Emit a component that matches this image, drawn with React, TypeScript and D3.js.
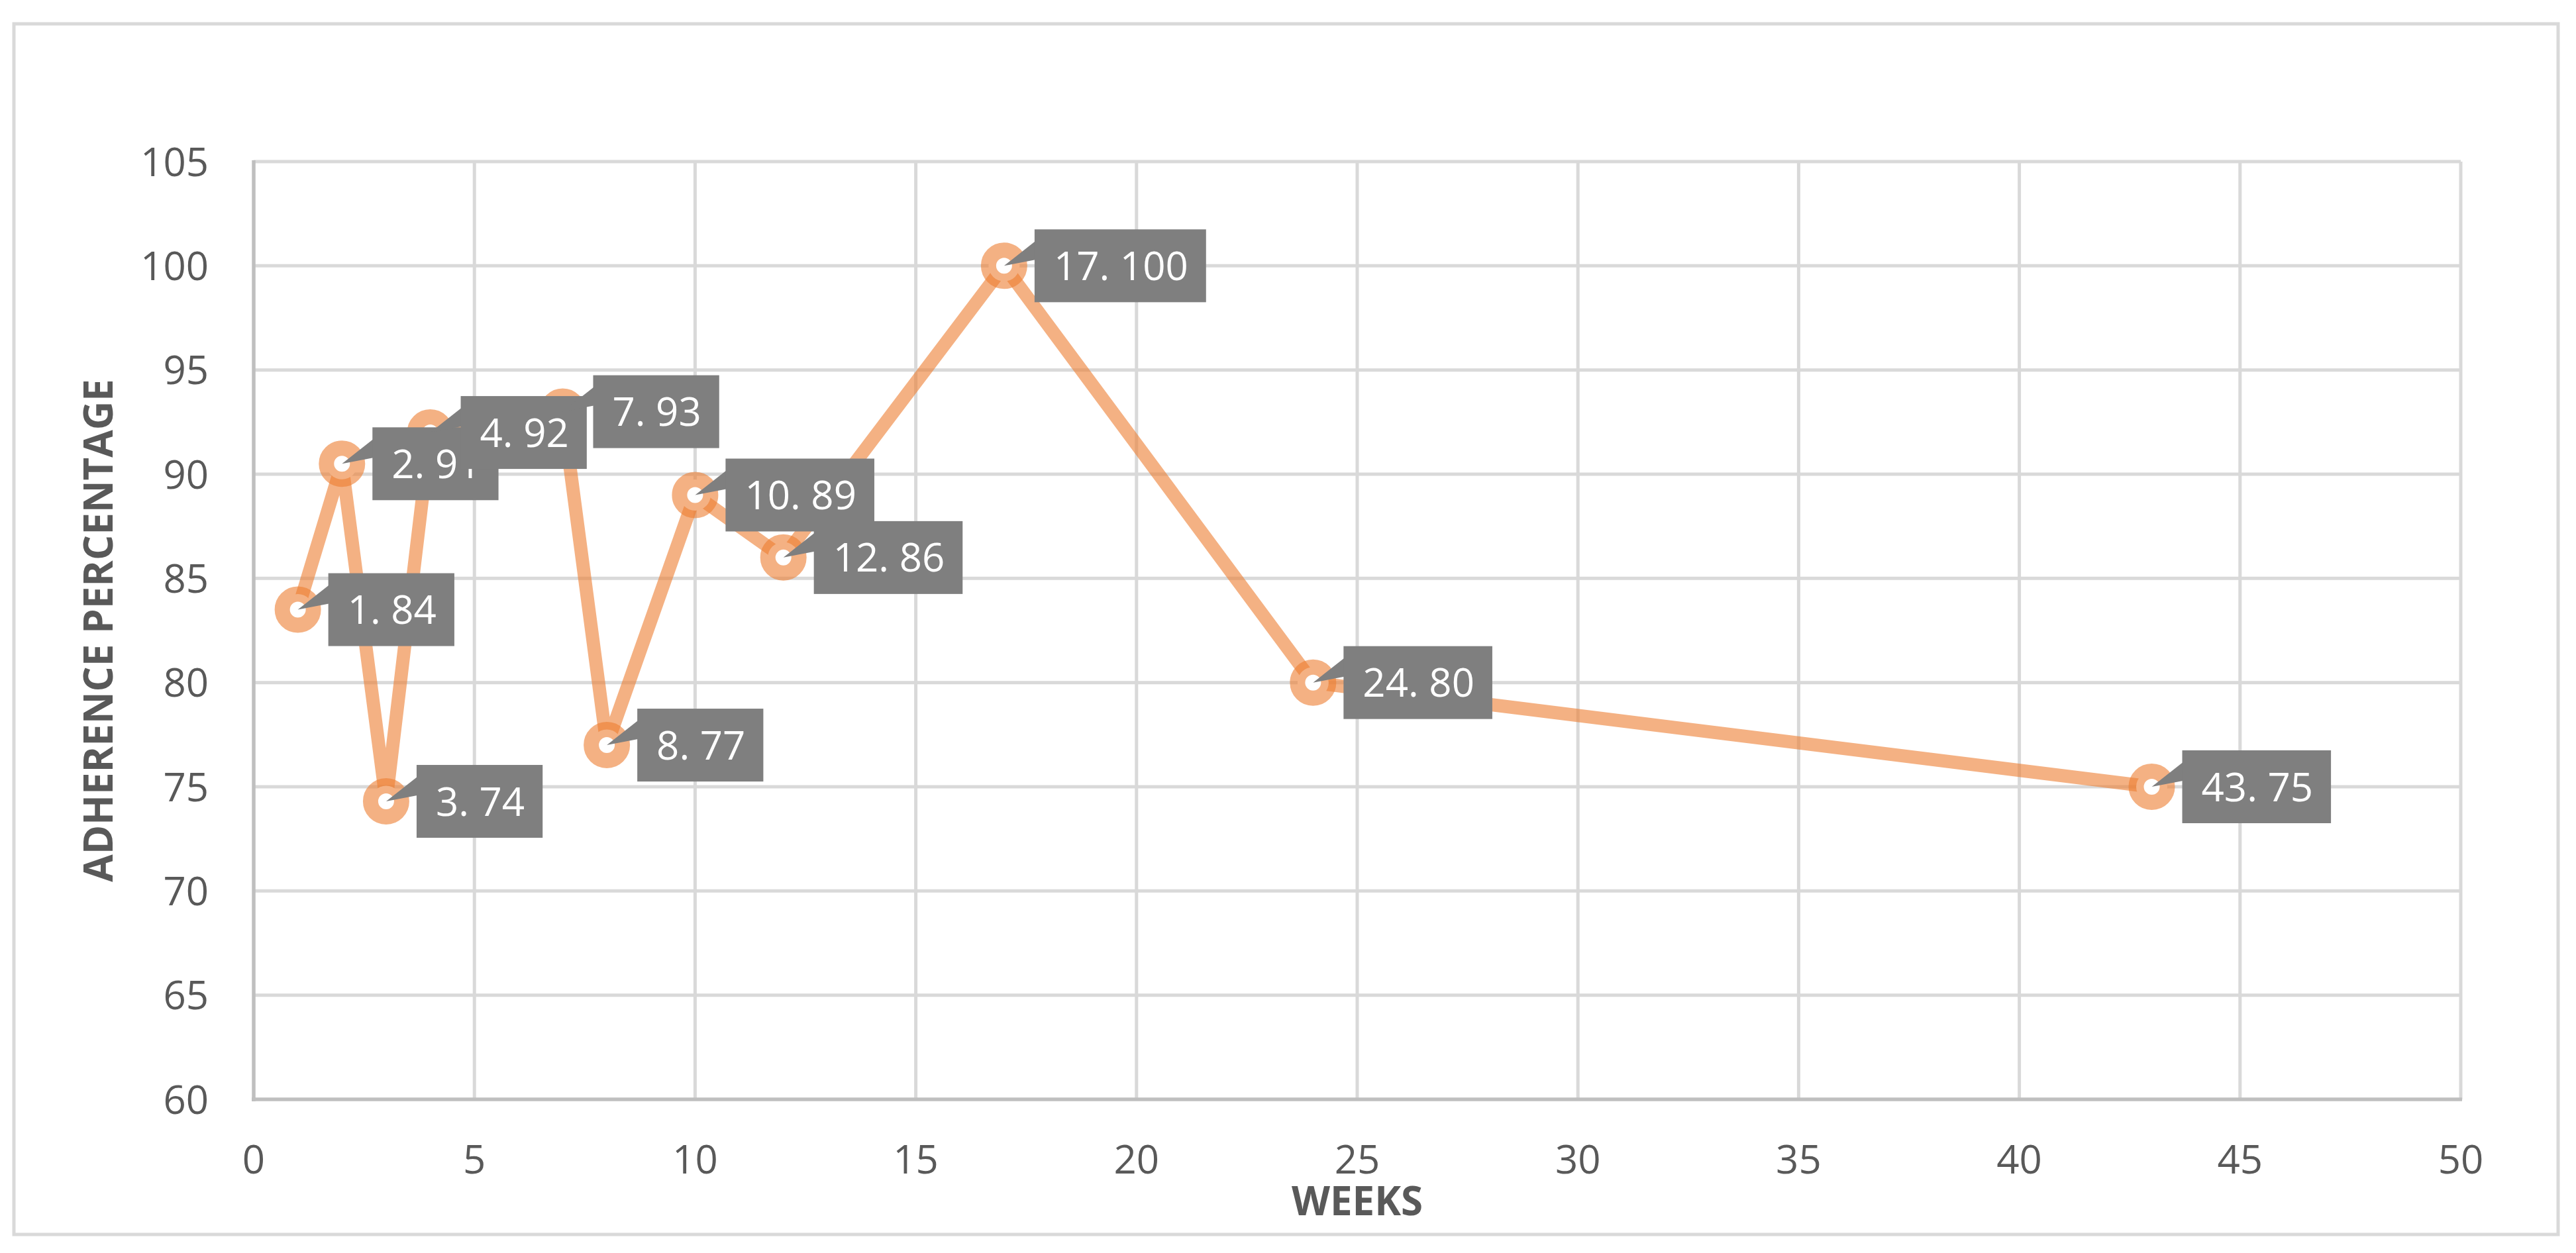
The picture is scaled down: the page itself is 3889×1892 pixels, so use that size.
import React, { useEffect, useRef } from 'react';
import * as d3 from 'd3';

// ---- data ----
const WEEKS = [1, 2, 3, 4, 7, 8, 10, 12, 17, 24, 43];
const ADHERENCE = [83.5, 90.5, 74.3, 92, 93, 77, 89, 86, 100, 80, 75];
const X_TICKS = [0, 5, 10, 15, 20, 25, 30, 35, 40, 45, 50];
const Y_TICKS = [60, 65, 70, 75, 80, 85, 90, 95, 100, 105];
const X_TITLE = 'WEEKS';
const Y_TITLE = 'ADHERENCE PERCENTAGE';

const W = 3889;
const H = 1892;
const M = { left: 383, right: 3715, top: 244, bottom: 1660 };
const FONT = "'Open Sans', 'Noto Sans', sans-serif";
const TEXT = '#595959';
const GRID = '#d9d9d9';
const AXIS = '#bfbfbf';
const ORANGE = '#ED7D31';
const LABEL_BG = '#7f7f7f';

export default function App() {
  const ref = useRef<SVGSVGElement>(null);

  useEffect(() => {
    document.body.style.margin = '0';
    const svg = d3.select(ref.current);
    svg.selectAll('*').remove();

    const x = d3.scaleLinear().domain([0, 50]).range([M.left, M.right]);
    const y = d3.scaleLinear().domain([60, 105]).range([M.bottom, M.top]);

    svg.append('rect').attr('x', 0).attr('y', 0).attr('width', W).attr('height', H).attr('fill', '#fff');
    svg.append('rect')
      .attr('x', 21).attr('y', 36).attr('width', 3862 - 21).attr('height', 1864 - 36)
      .attr('fill', '#fff').attr('stroke', GRID).attr('stroke-width', 5);

    // gridlines
    const grid = svg.append('g');
    grid.selectAll('line.h').data(Y_TICKS.filter(v => v > 60)).join('line')
      .attr('x1', M.left).attr('x2', M.right)
      .attr('y1', d => y(d)).attr('y2', d => y(d))
      .attr('stroke', GRID).attr('stroke-width', 5);
    grid.selectAll('line.v').data(X_TICKS.filter(v => v > 0)).join('line')
      .attr('y1', M.top).attr('y2', M.bottom)
      .attr('x1', d => x(d)).attr('x2', d => x(d))
      .attr('stroke', GRID).attr('stroke-width', 5);

    // axis lines
    svg.append('line').attr('x1', M.left).attr('x2', M.left).attr('y1', M.top - 2).attr('y2', M.bottom + 3)
      .attr('stroke', AXIS).attr('stroke-width', 5.5);
    svg.append('line').attr('x1', M.left - 3).attr('x2', M.right + 2).attr('y1', M.bottom).attr('y2', M.bottom)
      .attr('stroke', AXIS).attr('stroke-width', 5.5);

    // tick labels
    svg.append('g').selectAll('text').data(Y_TICKS).join('text')
      .attr('x', 315).attr('y', d => y(d) + 21.5)
      .attr('text-anchor', 'end').attr('font-family', FONT).attr('font-size', 60).attr('fill', TEXT)
      .text(d => String(d));
    svg.append('g').selectAll('text').data(X_TICKS).join('text')
      .attr('x', d => x(d)).attr('y', 1772)
      .attr('text-anchor', 'middle').attr('font-family', FONT).attr('font-size', 60).attr('fill', TEXT)
      .text(d => String(d));

    // titles
    svg.append('text').attr('x', (M.left + M.right) / 2).attr('y', 1835)
      .attr('text-anchor', 'middle').attr('font-family', FONT).attr('font-size', 60)
      .attr('font-weight', 700).attr('fill', TEXT).text(X_TITLE);
    svg.append('text')
      .attr('transform', `translate(170, ${(M.top + M.bottom) / 2}) rotate(-90)`)
      .attr('text-anchor', 'middle').attr('font-family', FONT).attr('font-size', 60)
      .attr('font-weight', 700).attr('fill', TEXT).text(Y_TITLE);

    const pts = WEEKS.map((w, i) => ({ w, v: ADHERENCE[i] }));

    // line
    const line = d3.line<{ w: number; v: number }>().x(d => x(d.w)).y(d => y(d.v));
    svg.append('path').attr('d', line(pts) as string)
      .attr('fill', 'none').attr('stroke', ORANGE).attr('stroke-opacity', 0.6)
      .attr('stroke-width', 20).attr('stroke-linejoin', 'round');

    // markers
    svg.append('g').selectAll('circle').data(pts).join('circle')
      .attr('cx', d => x(d.w)).attr('cy', d => y(d.v)).attr('r', 23.5)
      .attr('fill', '#fff').attr('stroke', ORANGE).attr('stroke-opacity', 0.6).attr('stroke-width', 23);

    // data labels (callouts)
    const lg = svg.append('g');
    pts.forEach(d => {
      const px = x(d.w);
      const py = y(d.v);
      const left = px + 46;
      const top = py - 55;
      const g = lg.append('g');
      const poly = g.append('polygon');
      const rect = g.append('rect');
      const t = g.append('text')
        .attr('x', left + 29).attr('y', top + 76.5)
        .attr('font-family', FONT).attr('font-size', 60).attr('fill', '#fff')
        .text(`${d.w}. ${Math.round(d.v)}`);
      const tw = (t.node() as SVGTextElement).getComputedTextLength();
      rect.attr('x', left).attr('y', top).attr('width', tw + 56).attr('height', 110).attr('fill', LABEL_BG);
      poly.attr('points', `${px},${py} ${left + 1},${top + 18} ${left + 1},${top + 46}`).attr('fill', LABEL_BG);
    });
  }, []);

  return <svg ref={ref} width={W} height={H} style={{ display: 'block' }} />;
}
